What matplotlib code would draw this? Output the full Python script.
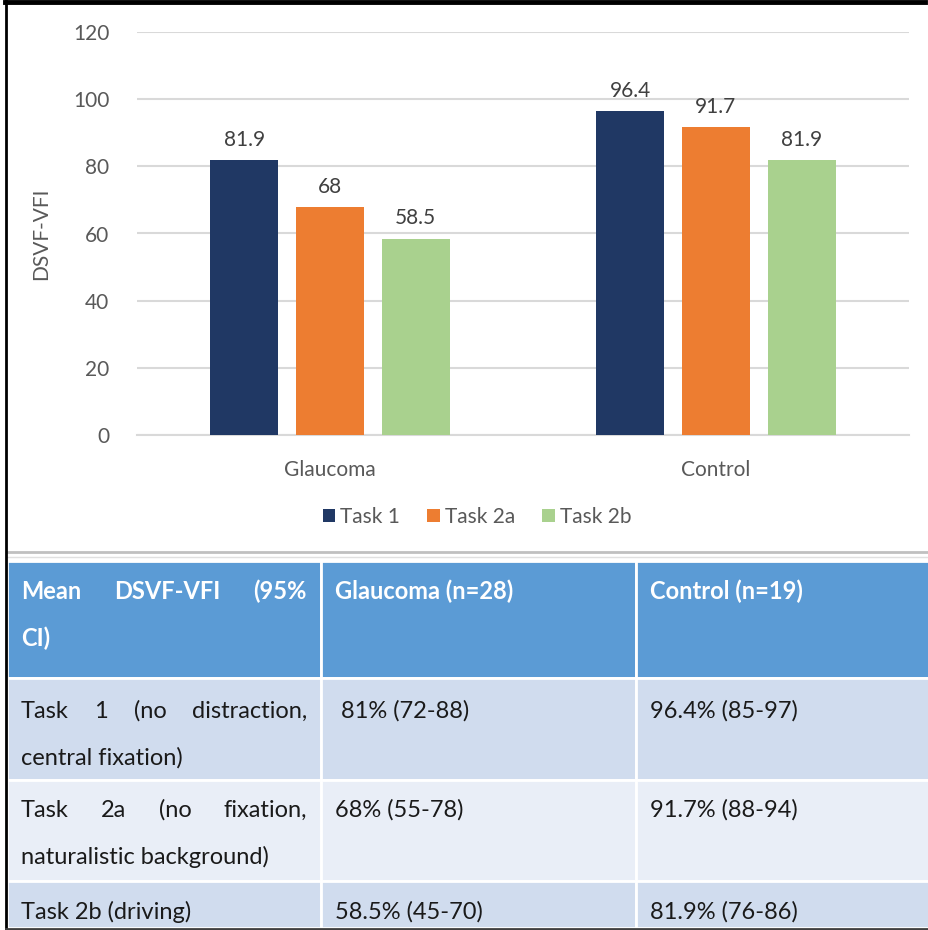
import matplotlib
matplotlib.use("Agg")
import matplotlib.pyplot as plt
from matplotlib.patches import Rectangle
from matplotlib.lines import Line2D
import numpy as np

plt.rcParams['font.family'] = ['Lato', 'DejaVu Sans']

# ---- chart data ----
groups = ["Glaucoma", "Control"]
task_names = ["Task 1", "Task 2a", "Task 2b"]
task1 = [81.9, 96.4]
task2a = [68, 91.7]
task2b = [58.5, 81.9]
colors = ["#203864", "#ED7D31", "#A9D18E"]

# ---- table data ----
header_lines = [["Mean DSVF-VFI (95%", "CI)"], ["Glaucoma (n=28)"], ["Control (n=19)"]]
row_label_lines = [["Task 1 (no distraction,", "central fixation)"],
                   ["Task 2a (no fixation,", "naturalistic background)"],
                   ["Task 2b (driving)"]]
glaucoma_ci = [" 81% (72-88)", "68% (55-78)", "58.5% (45-70)"]
control_ci = ["96.4% (85-97)", "91.7% (88-94)", "81.9% (76-86)"]

W, H = 929, 930
fig = plt.figure(figsize=(W / 100, H / 100), dpi=100)

# overlay axes in pixel coords for table + frame
bg = fig.add_axes([0, 0, 1, 1])
bg.set_xlim(0, W)
bg.set_ylim(H, 0)
bg.axis('off')

# ---- bar chart ----
ax = fig.add_axes([137 / W, 1 - 435 / H, (909 - 137) / W, (435 - 32) / H])
x = np.arange(len(groups))
width = 0.176
step = 0.222
gray = "#595959"
cfs = 15
for i, (vals, name) in enumerate(zip([task1, task2a, task2b], task_names)):
    bars = ax.bar(x + (i - 1) * step, vals, width, color=colors[i], label=name, zorder=3)
    for b, v in zip(bars, vals):
        ax.text(b.get_x() + b.get_width() / 2, v + 3.0, '{:g}'.format(v),
                ha='center', va='bottom', fontsize=cfs, color="#404040")

ax.set_xlim(-0.5, 1.5)
ax.set_ylim(0, 120)
ax.set_yticks(range(0, 121, 20))
ax.yaxis.grid(True, color="#D9D9D9", linewidth=1.5, zorder=0)
for s in ['top', 'right', 'left']:
    ax.spines[s].set_visible(False)
ax.spines['bottom'].set_color("#D9D9D9")
ax.spines['bottom'].set_linewidth(1.5)
ax.tick_params(axis='both', length=0, labelsize=cfs, colors=gray)
ax.tick_params(axis='y', pad=20)
ax.tick_params(axis='x', pad=18)
ax.set_xticks(x)
ax.set_xticklabels(groups)
ax.set_ylabel("DSVF-VFI", fontsize=cfs, color=gray)
ax.yaxis.set_label_coords(-(137 - 51) / (909 - 137), 0.5)
leg = ax.legend(loc='center', bbox_to_anchor=((477 - 137) / (909 - 137), -(517 - 435) / (435 - 32)),
                ncol=3, frameon=False, fontsize=cfs, handlelength=0.6, handleheight=0.6,
                handletextpad=0.25, columnspacing=1.3)
for t in leg.get_texts():
    t.set_color(gray)

# ---- separator lines below chart ----
bg.add_line(Line2D([7, W], [552, 552], color="#C0C0C0", lw=2))
bg.add_line(Line2D([7, W], [557, 557], color="#E0E0E0", lw=1))

# ---- table ----
col_x = [7, 321, 636, W]
row_y = [561, 678, 780, 881, 928]
row_colors = ["#5B9BD5", "#D0DCEE", "#E9EEF7", "#D0DCEE"]
for r in range(4):
    for c in range(3):
        bg.add_patch(Rectangle((col_x[c], row_y[r]), col_x[c + 1] - col_x[c],
                               row_y[r + 1] - row_y[r], facecolor=row_colors[r],
                               edgecolor='white', lw=2))

renderer = fig.canvas.get_renderer()


def justified(line, x0, x1, y, **kw):
    words = line.split()
    texts = [bg.text(0, y, w_, ha='left', va='center', **kw) for w_ in words]
    widths = [t.get_window_extent(renderer).width for t in texts]
    gap = (x1 - x0 - sum(widths)) / max(len(words) - 1, 1)
    pos = x0
    for t, w_ in zip(texts, widths):
        t.set_x(pos)
        pos += w_ + gap


pad = 14
fs = 17
hfs = 17
hdr_y = [591, 638]
# header row
justified(header_lines[0][0], col_x[0] + pad, col_x[1] - pad, hdr_y[0],
          fontsize=hfs, color='white', fontweight='bold')
bg.text(col_x[0] + pad, hdr_y[1], header_lines[0][1], ha='left', va='center',
        fontsize=hfs, color='white', fontweight='bold')
for c in (1, 2):
    bg.text(col_x[c] + pad, hdr_y[0], header_lines[c][0], ha='left', va='center',
            fontsize=hfs, color='white', fontweight='bold')

line_y = [[711, 758], [810, 857], [912]]
txt = "#1a1a1a"
for r in range(3):
    lines = row_label_lines[r]
    for k, ln in enumerate(lines):
        if k < len(lines) - 1:
            justified(ln, col_x[0] + pad, col_x[1] - pad, line_y[r][k], fontsize=fs, color=txt)
        else:
            bg.text(col_x[0] + pad, line_y[r][k], ln, ha='left', va='center',
                    fontsize=fs, color=txt)
    bg.text(col_x[1] + pad, line_y[r][0], glaucoma_ci[r], ha='left', va='center',
            fontsize=fs, color=txt)
    bg.text(col_x[2] + pad, line_y[r][0], control_ci[r], ha='left', va='center',
            fontsize=fs, color=txt)

# ---- outer frame ----
bg.add_line(Line2D([5, 925], [2.5, 2.5], color='black', lw=3.5))
bg.add_line(Line2D([6, 6], [0, H], color='black', lw=2))
bg.add_line(Line2D([6, W], [929, 929], color='#404040', lw=2))

fig.savefig("out.png", dpi=100)
